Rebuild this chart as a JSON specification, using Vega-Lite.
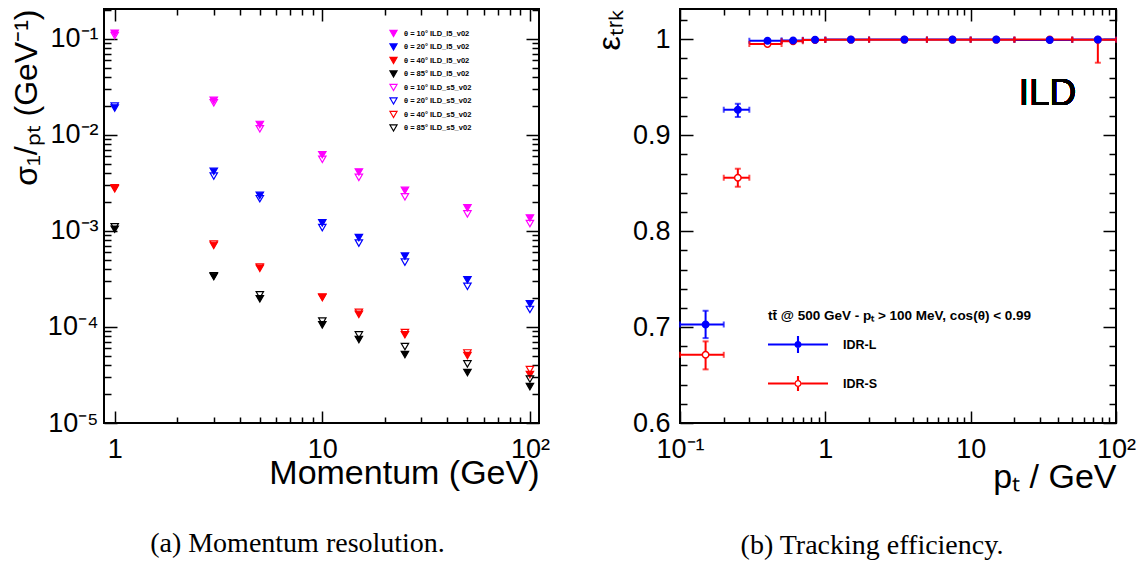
{
  "$schema": "https://vega.github.io/schema/vega-lite/v6.json",
  "background": "white",
  "padding": {"left": 9, "top": 7, "right": 5, "bottom": 5},
  "bounds": "flush",
  "spacing": 141,
  "config": {
    "view": {"stroke": "black", "strokeWidth": 2},
    "axis": {
      "domain": false, "grid": false, "tickColor": "black", "tickWidth": 1.5,
      "labelFont": "Liberation Sans", "labelFontSize": 27, "labelColor": "black",
      "titleFont": "Liberation Sans", "titleFontWeight": "normal", "titleColor": "black", "titleFontSize": 34,
      "labelFlush": false, "labelOverlap": false, "labelBound": false
    }
  },
  "hconcat": [
    {
      "width": 435, "height": 414,
      "title": {"text": "(a) Momentum resolution.", "orient": "bottom", "anchor": "middle", "dx": -24, "font": "Liberation Serif", "fontSize": 28, "fontWeight": "normal", "color": "black", "offset": 40},
      "data": {"values": [
        {"p": 1, "s": "θ = 10° ILD_l5_v02", "sigma": 0.114},
        {"p": 3, "s": "θ = 10° ILD_l5_v02", "sigma": 0.0228},
        {"p": 5, "s": "θ = 10° ILD_l5_v02", "sigma": 0.0128},
        {"p": 10, "s": "θ = 10° ILD_l5_v02", "sigma": 0.0062},
        {"p": 15, "s": "θ = 10° ILD_l5_v02", "sigma": 0.0041},
        {"p": 25, "s": "θ = 10° ILD_l5_v02", "sigma": 0.00264},
        {"p": 50, "s": "θ = 10° ILD_l5_v02", "sigma": 0.00174},
        {"p": 100, "s": "θ = 10° ILD_l5_v02", "sigma": 0.00136},
        {"p": 1, "s": "θ = 20° ILD_l5_v02", "sigma": 0.019},
        {"p": 3, "s": "θ = 20° ILD_l5_v02", "sigma": 0.00416},
        {"p": 5, "s": "θ = 20° ILD_l5_v02", "sigma": 0.00234},
        {"p": 10, "s": "θ = 20° ILD_l5_v02", "sigma": 0.00121},
        {"p": 15, "s": "θ = 20° ILD_l5_v02", "sigma": 0.00085},
        {"p": 25, "s": "θ = 20° ILD_l5_v02", "sigma": 0.000545},
        {"p": 50, "s": "θ = 20° ILD_l5_v02", "sigma": 0.000309},
        {"p": 100, "s": "θ = 20° ILD_l5_v02", "sigma": 0.000174},
        {"p": 1, "s": "θ = 40° ILD_l5_v02", "sigma": 0.00274},
        {"p": 3, "s": "θ = 40° ILD_l5_v02", "sigma": 0.000705},
        {"p": 5, "s": "θ = 40° ILD_l5_v02", "sigma": 0.000408},
        {"p": 10, "s": "θ = 40° ILD_l5_v02", "sigma": 0.000202},
        {"p": 15, "s": "θ = 40° ILD_l5_v02", "sigma": 0.000135},
        {"p": 25, "s": "θ = 40° ILD_l5_v02", "sigma": 0.000083},
        {"p": 50, "s": "θ = 40° ILD_l5_v02", "sigma": 0.0000503},
        {"p": 100, "s": "θ = 40° ILD_l5_v02", "sigma": 0.0000319},
        {"p": 1, "s": "θ = 85° ILD_l5_v02", "sigma": 0.00104},
        {"p": 3, "s": "θ = 85° ILD_l5_v02", "sigma": 0.000335},
        {"p": 5, "s": "θ = 85° ILD_l5_v02", "sigma": 0.000196},
        {"p": 10, "s": "θ = 85° ILD_l5_v02", "sigma": 0.000105},
        {"p": 15, "s": "θ = 85° ILD_l5_v02", "sigma": 0.000074},
        {"p": 25, "s": "θ = 85° ILD_l5_v02", "sigma": 0.0000515},
        {"p": 50, "s": "θ = 85° ILD_l5_v02", "sigma": 0.0000335},
        {"p": 100, "s": "θ = 85° ILD_l5_v02", "sigma": 0.0000239},
        {"p": 1, "s": "θ = 10° ILD_s5_v02", "sigma": 0.108},
        {"p": 3, "s": "θ = 10° ILD_s5_v02", "sigma": 0.0215},
        {"p": 5, "s": "θ = 10° ILD_s5_v02", "sigma": 0.01155},
        {"p": 10, "s": "θ = 10° ILD_s5_v02", "sigma": 0.00555},
        {"p": 15, "s": "θ = 10° ILD_s5_v02", "sigma": 0.0036},
        {"p": 25, "s": "θ = 10° ILD_s5_v02", "sigma": 0.00226},
        {"p": 50, "s": "θ = 10° ILD_s5_v02", "sigma": 0.0015},
        {"p": 100, "s": "θ = 10° ILD_s5_v02", "sigma": 0.00119},
        {"p": 1, "s": "θ = 20° ILD_s5_v02", "sigma": 0.0199},
        {"p": 3, "s": "θ = 20° ILD_s5_v02", "sigma": 0.00372},
        {"p": 5, "s": "θ = 20° ILD_s5_v02", "sigma": 0.00216},
        {"p": 10, "s": "θ = 20° ILD_s5_v02", "sigma": 0.00108},
        {"p": 15, "s": "θ = 20° ILD_s5_v02", "sigma": 0.000745},
        {"p": 25, "s": "θ = 20° ILD_s5_v02", "sigma": 0.000472},
        {"p": 50, "s": "θ = 20° ILD_s5_v02", "sigma": 0.000265},
        {"p": 100, "s": "θ = 20° ILD_s5_v02", "sigma": 0.000152},
        {"p": 1, "s": "θ = 40° ILD_s5_v02", "sigma": 0.0028},
        {"p": 3, "s": "θ = 40° ILD_s5_v02", "sigma": 0.00073},
        {"p": 5, "s": "θ = 40° ILD_s5_v02", "sigma": 0.00042},
        {"p": 10, "s": "θ = 40° ILD_s5_v02", "sigma": 0.000205},
        {"p": 15, "s": "θ = 40° ILD_s5_v02", "sigma": 0.000142},
        {"p": 25, "s": "θ = 40° ILD_s5_v02", "sigma": 0.0000875},
        {"p": 50, "s": "θ = 40° ILD_s5_v02", "sigma": 0.0000536},
        {"p": 100, "s": "θ = 40° ILD_s5_v02", "sigma": 0.000036},
        {"p": 1, "s": "θ = 85° ILD_s5_v02", "sigma": 0.0011},
        {"p": 3, "s": "θ = 85° ILD_s5_v02", "sigma": 0.00034},
        {"p": 5, "s": "θ = 85° ILD_s5_v02", "sigma": 0.000216},
        {"p": 10, "s": "θ = 85° ILD_s5_v02", "sigma": 0.000115},
        {"p": 15, "s": "θ = 85° ILD_s5_v02", "sigma": 0.0000826},
        {"p": 25, "s": "θ = 85° ILD_s5_v02", "sigma": 0.0000625},
        {"p": 50, "s": "θ = 85° ILD_s5_v02", "sigma": 0.0000412},
        {"p": 100, "s": "θ = 85° ILD_s5_v02", "sigma": 0.0000287}
      ]},
      "layer": [
        {
          "mark": {"type": "point", "shape": "triangle-down", "filled": true, "size": 55, "strokeWidth": 1.2, "opacity": 1},
          "encoding": {
            "x": {"field": "p", "type": "quantitative",
              "scale": {"type": "log", "domain": [0.888, 110.6], "nice": false},
              "axis": {"orient": "bottom", "values": [1, 10, 100], "labelExpr": "datum.value < 2 ? '1' : datum.value < 20 ? '10' : '10²'", "tickSize": -12, "labelPadding": 25, "title": "Momentum (GeV)", "titleAnchor": "end", "titlePadding": -6}},
            "y": {"field": "sigma", "type": "quantitative",
              "scale": {"type": "log", "domain": [0.00001, 0.2037], "nice": false},
              "axis": {"orient": "left", "values": [0.00001, 0.0001, 0.001, 0.01, 0.1], "labelExpr": "datum.value < 2e-5 ? '10⁻⁵' : datum.value < 2e-4 ? '10⁻⁴' : datum.value < 2e-3 ? '10⁻³' : datum.value < 2e-2 ? '10⁻²' : '10⁻¹'", "tickSize": -13, "labelPadding": 19, "title": "σ₁/ₚₜ (GeV⁻¹)", "titleAnchor": "end", "titlePadding": 4, "titleFontSize": 32}},
            "fill": {"field": "s", "type": "nominal",
              "scale": {"domain": ["θ = 10° ILD_l5_v02", "θ = 20° ILD_l5_v02", "θ = 40° ILD_l5_v02", "θ = 85° ILD_l5_v02", "θ = 10° ILD_s5_v02", "θ = 20° ILD_s5_v02", "θ = 40° ILD_s5_v02", "θ = 85° ILD_s5_v02"],
                        "range": ["#ff00ff", "#0000ff", "#ff0000", "#000000", "transparent", "transparent", "transparent", "transparent"]},
              "legend": {"orient": "none", "legendX": 285, "legendY": 20, "title": null, "labelFont": "Liberation Sans", "labelFontSize": 7.5, "labelFontWeight": "bold", "labelColor": "black", "symbolSize": 50, "symbolType": "triangle-down", "symbolStrokeWidth": 1.2, "rowPadding": 2.5, "labelOffset": 6}},
            "stroke": {"field": "s", "type": "nominal",
              "scale": {"domain": ["θ = 10° ILD_l5_v02", "θ = 20° ILD_l5_v02", "θ = 40° ILD_l5_v02", "θ = 85° ILD_l5_v02", "θ = 10° ILD_s5_v02", "θ = 20° ILD_s5_v02", "θ = 40° ILD_s5_v02", "θ = 85° ILD_s5_v02"],
                        "range": ["#ff00ff", "#0000ff", "#ff0000", "#000000", "#ff00ff", "#0000ff", "#ff0000", "#000000"]},
              "legend": {"orient": "none", "legendX": 285, "legendY": 20, "title": null, "labelFont": "Liberation Sans", "labelFontSize": 7.5, "labelFontWeight": "bold", "labelColor": "black", "symbolSize": 50, "symbolType": "triangle-down", "symbolStrokeWidth": 1.2, "rowPadding": 2.5, "labelOffset": 6}}
          }
        },
        {
          "mark": {"type": "point", "opacity": 0},
          "encoding": {
            "x": {"field": "p", "type": "quantitative", "scale": {"type": "log", "domain": [0.888, 110.6], "nice": false},
              "axis": {"orient": "bottom", "values": [2, 3, 4, 5, 6, 7, 8, 9, 20, 30, 40, 50, 60, 70, 80, 90], "labels": false, "tickSize": -6, "title": null}},
            "y": {"field": "sigma", "type": "quantitative", "scale": {"type": "log", "domain": [0.00001, 0.2037], "nice": false},
              "axis": {"orient": "left", "values": [0.00002, 0.00003, 0.00004, 0.00005, 0.00006, 0.00007, 0.00008, 0.00009, 0.0002, 0.0003, 0.0004, 0.0005, 0.0006, 0.0007, 0.0008, 0.0009, 0.002, 0.003, 0.004, 0.005, 0.006, 0.007, 0.008, 0.009, 0.02, 0.03, 0.04, 0.05, 0.06, 0.07, 0.08, 0.09, 0.2], "labels": false, "tickSize": -7, "title": null}}
          }
        },
        {
          "mark": {"type": "point", "opacity": 0},
          "encoding": {
            "x": {"field": "p", "type": "quantitative", "scale": {"type": "log", "domain": [0.888, 110.6], "nice": false},
              "axis": {"orient": "top", "values": [1, 10, 100], "labels": false, "tickSize": -12, "title": null}},
            "y": {"field": "sigma", "type": "quantitative", "scale": {"type": "log", "domain": [0.00001, 0.2037], "nice": false},
              "axis": {"orient": "right", "values": [0.00001, 0.0001, 0.001, 0.01, 0.1], "labels": false, "tickSize": -13, "title": null}}
          }
        },
        {
          "mark": {"type": "point", "opacity": 0},
          "encoding": {
            "x": {"field": "p", "type": "quantitative", "scale": {"type": "log", "domain": [0.888, 110.6], "nice": false},
              "axis": {"orient": "top", "values": [2, 3, 4, 5, 6, 7, 8, 9, 20, 30, 40, 50, 60, 70, 80, 90], "labels": false, "tickSize": -6, "title": null}},
            "y": {"field": "sigma", "type": "quantitative", "scale": {"type": "log", "domain": [0.00001, 0.2037], "nice": false},
              "axis": {"orient": "right", "values": [0.00002, 0.00003, 0.00004, 0.00005, 0.00006, 0.00007, 0.00008, 0.00009, 0.0002, 0.0003, 0.0004, 0.0005, 0.0006, 0.0007, 0.0008, 0.0009, 0.002, 0.003, 0.004, 0.005, 0.006, 0.007, 0.008, 0.009, 0.02, 0.03, 0.04, 0.05, 0.06, 0.07, 0.08, 0.09, 0.2], "labels": false, "tickSize": -7, "title": null}}
          }
        }
      ],
      "resolve": {"axis": {"x": "independent", "y": "independent"}}
    },
    {
      "width": 436, "height": 414,
      "title": {"text": "(b) Tracking efficiency.", "orient": "bottom", "anchor": "middle", "dx": -26, "font": "Liberation Serif", "fontSize": 28, "fontWeight": "normal", "color": "black", "offset": 38},
      "data": {"values": [
        {"det": "IDR-L", "x": 0.15, "xlo": 0.1, "xhi": 0.2, "y": 0.7027, "ylo": 0.6885, "yhi": 0.717},
        {"det": "IDR-L", "x": 0.25, "xlo": 0.2, "xhi": 0.3, "y": 0.9266, "ylo": 0.919, "yhi": 0.9328},
        {"det": "IDR-L", "x": 0.4, "xlo": 0.3, "xhi": 0.5, "y": 0.9985, "ylo": 0.9978, "yhi": 0.9992},
        {"det": "IDR-L", "x": 0.6, "xlo": 0.5, "xhi": 0.7, "y": 0.9988, "ylo": 0.9982, "yhi": 0.9994},
        {"det": "IDR-L", "x": 0.85, "xlo": 0.7, "xhi": 1, "y": 0.9995, "ylo": 0.9992, "yhi": 0.9998},
        {"det": "IDR-L", "x": 1.5, "xlo": 1, "xhi": 2, "y": 0.9997, "ylo": 0.9995, "yhi": 0.9999},
        {"det": "IDR-L", "x": 3.5, "xlo": 2, "xhi": 5, "y": 0.9997, "ylo": 0.9995, "yhi": 0.9999},
        {"det": "IDR-L", "x": 7.5, "xlo": 5, "xhi": 10, "y": 0.9997, "ylo": 0.9995, "yhi": 0.9999},
        {"det": "IDR-L", "x": 15, "xlo": 10, "xhi": 20, "y": 0.9997, "ylo": 0.9995, "yhi": 0.9999},
        {"det": "IDR-L", "x": 35, "xlo": 20, "xhi": 50, "y": 0.9994, "ylo": 0.9991, "yhi": 0.9997},
        {"det": "IDR-L", "x": 75, "xlo": 50, "xhi": 100, "y": 0.9997, "ylo": 0.9994, "yhi": 1.0},
        {"det": "IDR-S", "x": 0.15, "xlo": 0.1, "xhi": 0.2, "y": 0.6711, "ylo": 0.6559, "yhi": 0.6851},
        {"det": "IDR-S", "x": 0.25, "xlo": 0.2, "xhi": 0.3, "y": 0.8557, "ylo": 0.8463, "yhi": 0.8651},
        {"det": "IDR-S", "x": 0.4, "xlo": 0.3, "xhi": 0.5, "y": 0.9951, "ylo": 0.9942, "yhi": 0.996},
        {"det": "IDR-S", "x": 0.6, "xlo": 0.5, "xhi": 0.7, "y": 0.998, "ylo": 0.9974, "yhi": 0.9986},
        {"det": "IDR-S", "x": 0.85, "xlo": 0.7, "xhi": 1, "y": 0.9993, "ylo": 0.999, "yhi": 0.9996},
        {"det": "IDR-S", "x": 1.5, "xlo": 1, "xhi": 2, "y": 0.9996, "ylo": 0.9994, "yhi": 0.9998},
        {"det": "IDR-S", "x": 3.5, "xlo": 2, "xhi": 5, "y": 0.9996, "ylo": 0.9994, "yhi": 0.9998},
        {"det": "IDR-S", "x": 7.5, "xlo": 5, "xhi": 10, "y": 0.9996, "ylo": 0.9994, "yhi": 0.9998},
        {"det": "IDR-S", "x": 15, "xlo": 10, "xhi": 20, "y": 0.9996, "ylo": 0.9994, "yhi": 0.9998},
        {"det": "IDR-S", "x": 35, "xlo": 20, "xhi": 50, "y": 0.9997, "ylo": 0.9995, "yhi": 0.9999},
        {"det": "IDR-S", "x": 75, "xlo": 50, "xhi": 100, "y": 0.9996, "ylo": 0.9756, "yhi": 1.0}
      ]},
      "layer": [
        {
          "transform": [{"filter": "datum.det == 'IDR-L'"}],
          "mark": {"type": "rule", "strokeWidth": 2, "color": "#0000ff"},
          "encoding": {
            "x": {"field": "xlo", "type": "quantitative", "scale": {"type": "log", "domain": [0.1, 100], "nice": false},
              "axis": {"orient": "bottom", "values": [0.1, 1, 10, 100], "labelExpr": "datum.value < 0.2 ? '10⁻¹' : datum.value < 2 ? '1' : datum.value < 20 ? '10' : '10²'", "tickSize": -12, "labelPadding": 25, "title": "pₜ / GeV", "titleAnchor": "end", "titlePadding": -2}},
            "x2": {"field": "xhi"},
            "y": {"field": "y", "type": "quantitative", "scale": {"domain": [0.6, 1.0316], "nice": false, "zero": false},
              "axis": {"orient": "left", "values": [0.6, 0.7, 0.8, 0.9, 1.0], "labelExpr": "datum.value > 0.95 ? '1' : format(datum.value, '.1f')", "tickSize": -13, "labelPadding": 23, "title": "εₜᵣₖ", "titleAnchor": "end", "titlePadding": 6, "titleFontSize": 32}}
          }
        },
        {
          "transform": [{"filter": "datum.det == 'IDR-L'"}],
          "mark": {"type": "rule", "strokeWidth": 2, "color": "#0000ff"},
          "encoding": {
            "x": {"field": "x", "type": "quantitative", "scale": {"type": "log", "domain": [0.1, 100], "nice": false},
              "axis": {"orient": "bottom", "values": [0.2, 0.3, 0.4, 0.5, 0.6, 0.7, 0.8, 0.9, 2, 3, 4, 5, 6, 7, 8, 9, 20, 30, 40, 50, 60, 70, 80, 90], "labels": false, "tickSize": -6, "title": null}},
            "y": {"field": "ylo", "type": "quantitative", "scale": {"domain": [0.6, 1.0316], "nice": false, "zero": false},
              "axis": {"orient": "left", "values": [0.62, 0.64, 0.66, 0.68, 0.72, 0.74, 0.76, 0.78, 0.82, 0.84, 0.86, 0.88, 0.92, 0.94, 0.96, 0.98, 1.02], "labels": false, "tickSize": -7, "title": null}},
            "y2": {"field": "yhi"}
          }
        },
        {
          "transform": [{"filter": "datum.det == 'IDR-L'"}, {"fold": ["xlo", "xhi"], "as": ["edge", "xv"]}],
          "mark": {"type": "tick", "orient": "vertical", "size": 6, "thickness": 2, "color": "#0000ff"},
          "encoding": {
            "x": {"field": "xv", "type": "quantitative", "scale": {"type": "log", "domain": [0.1, 100], "nice": false},
              "axis": {"orient": "top", "values": [0.1, 1, 10, 100], "labels": false, "tickSize": -12, "title": null}},
            "y": {"field": "y", "type": "quantitative", "scale": {"domain": [0.6, 1.0316], "nice": false, "zero": false},
              "axis": {"orient": "right", "values": [0.6, 0.7, 0.8, 0.9, 1.0], "labels": false, "tickSize": -13, "title": null}}
          }
        },
        {
          "transform": [{"filter": "datum.det == 'IDR-L' && datum.yhi - datum.ylo > 0.003"}, {"fold": ["ylo", "yhi"], "as": ["edge", "yv"]}],
          "mark": {"type": "tick", "orient": "horizontal", "size": 6, "thickness": 2, "color": "#0000ff"},
          "encoding": {
            "x": {"field": "x", "type": "quantitative", "scale": {"type": "log", "domain": [0.1, 100], "nice": false},
              "axis": {"orient": "top", "values": [0.2, 0.3, 0.4, 0.5, 0.6, 0.7, 0.8, 0.9, 2, 3, 4, 5, 6, 7, 8, 9, 20, 30, 40, 50, 60, 70, 80, 90], "labels": false, "tickSize": -6, "title": null}},
            "y": {"field": "yv", "type": "quantitative", "scale": {"domain": [0.6, 1.0316], "nice": false, "zero": false},
              "axis": {"orient": "right", "values": [0.62, 0.64, 0.66, 0.68, 0.72, 0.74, 0.76, 0.78, 0.82, 0.84, 0.86, 0.88, 0.92, 0.94, 0.96, 0.98, 1.02], "labels": false, "tickSize": -7, "title": null}}
          }
        },
        {
          "transform": [{"filter": "datum.det == 'IDR-S'"}],
          "mark": {"type": "rule", "strokeWidth": 2, "color": "#ff0000"},
          "encoding": {
            "x": {"field": "xlo", "type": "quantitative", "scale": {"type": "log", "domain": [0.1, 100], "nice": false}, "axis": null},
            "x2": {"field": "xhi"},
            "y": {"field": "y", "type": "quantitative", "scale": {"domain": [0.6, 1.0316], "nice": false, "zero": false}, "axis": null}
          }
        },
        {
          "transform": [{"filter": "datum.det == 'IDR-S'"}],
          "mark": {"type": "rule", "strokeWidth": 2, "color": "#ff0000"},
          "encoding": {
            "x": {"field": "x", "type": "quantitative", "scale": {"type": "log", "domain": [0.1, 100], "nice": false}, "axis": null},
            "y": {"field": "ylo", "type": "quantitative", "scale": {"domain": [0.6, 1.0316], "nice": false, "zero": false}, "axis": null},
            "y2": {"field": "yhi"}
          }
        },
        {
          "transform": [{"filter": "datum.det == 'IDR-S'"}, {"fold": ["xlo", "xhi"], "as": ["edge", "xv"]}],
          "mark": {"type": "tick", "orient": "vertical", "size": 6, "thickness": 2, "color": "#ff0000"},
          "encoding": {
            "x": {"field": "xv", "type": "quantitative", "scale": {"type": "log", "domain": [0.1, 100], "nice": false}, "axis": null},
            "y": {"field": "y", "type": "quantitative", "scale": {"domain": [0.6, 1.0316], "nice": false, "zero": false}, "axis": null}
          }
        },
        {
          "transform": [{"filter": "datum.det == 'IDR-S' && datum.yhi - datum.ylo > 0.003"}, {"fold": ["ylo", "yhi"], "as": ["edge", "yv"]}],
          "mark": {"type": "tick", "orient": "horizontal", "size": 6, "thickness": 2, "color": "#ff0000"},
          "encoding": {
            "x": {"field": "x", "type": "quantitative", "scale": {"type": "log", "domain": [0.1, 100], "nice": false}, "axis": null},
            "y": {"field": "yv", "type": "quantitative", "scale": {"domain": [0.6, 1.0316], "nice": false, "zero": false}, "axis": null}
          }
        },
        {
          "transform": [{"filter": "datum.det == 'IDR-S'"}],
          "mark": {"type": "point", "shape": "circle", "filled": true, "fill": "white", "stroke": "#ff0000", "size": 42, "strokeWidth": 1.5, "opacity": 1},
          "encoding": {
            "x": {"field": "x", "type": "quantitative", "scale": {"type": "log", "domain": [0.1, 100], "nice": false}, "axis": null},
            "y": {"field": "y", "type": "quantitative", "scale": {"domain": [0.6, 1.0316], "nice": false, "zero": false}, "axis": null}
          }
        },
        {
          "transform": [{"filter": "datum.det == 'IDR-L'"}],
          "mark": {"type": "point", "shape": "circle", "filled": true, "fill": "#0000ff", "stroke": "#0000ff", "size": 42, "strokeWidth": 1.5, "opacity": 1},
          "encoding": {
            "x": {"field": "x", "type": "quantitative", "scale": {"type": "log", "domain": [0.1, 100], "nice": false}, "axis": null},
            "y": {"field": "y", "type": "quantitative", "scale": {"domain": [0.6, 1.0316], "nice": false, "zero": false}, "axis": null}
          }
        },
        {
          "transform": [{"filter": "datum.x < 0"}],
          "mark": {"type": "point", "filled": true, "opacity": 1},
          "encoding": {
            "x": {"field": "x", "type": "quantitative", "scale": {"type": "log", "domain": [0.1, 100], "nice": false}, "axis": null},
            "y": {"field": "y", "type": "quantitative", "scale": {"domain": [0.6, 1.0316], "nice": false, "zero": false}, "axis": null},
            "color": {"field": "det", "type": "nominal", "scale": {"domain": ["IDR-L", "IDR-S"], "range": ["#0000ff", "#ff0000"]},
              "legend": {"orient": "none", "legendX": 664, "legendY": 300, "title": "tt̄ @ 500 GeV - pₜ > 100 MeV, cos(θ) < 0.99", "titleFont": "Liberation Sans", "titleFontSize": 13.5, "titleFontWeight": "bold", "titleColor": "black", "titleLimit": 400, "titlePadding": -8, "labelFont": "Liberation Sans", "labelFontSize": 12.5, "labelFontWeight": "bold", "labelColor": "black", "symbolSize": 3600, "symbolStrokeWidth": 0, "labelOffset": 15, "rowPadding": -12}},
            "shape": {"field": "det", "type": "nominal",
              "scale": {"domain": ["IDR-L", "IDR-S"], "range": [
                "M-1,-0.035H1V0.035H-1Z M-0.035,-0.28H0.035V0.28H-0.035Z M0.12,0A0.12,0.12,0,1,1,-0.12,0A0.12,0.12,0,1,1,0.12,0Z",
                "M-1,-0.035H-0.12V0.035H-1Z M0.12,-0.035H1V0.035H0.12Z M-0.035,-0.25H0.035V-0.12H-0.035Z M-0.035,0.12H0.035V0.25H-0.035Z M0.12,0A0.12,0.12,0,1,1,-0.12,0A0.12,0.12,0,1,1,0.12,0Z M0.075,0A0.075,0.075,0,1,0,-0.075,0A0.075,0.075,0,1,0,0.075,0Z"
              ]},
              "legend": {"orient": "none", "legendX": 664, "legendY": 300, "title": "tt̄ @ 500 GeV - pₜ > 100 MeV, cos(θ) < 0.99", "titleFont": "Liberation Sans", "titleFontSize": 13.5, "titleFontWeight": "bold", "titleColor": "black", "titleLimit": 400, "titlePadding": -8, "labelFont": "Liberation Sans", "labelFontSize": 12.5, "labelFontWeight": "bold", "labelColor": "black", "symbolSize": 3600, "symbolStrokeWidth": 0, "labelOffset": 15, "rowPadding": -12}}
          }
        },
        {
          "mark": {"type": "text", "align": "left", "baseline": "alphabetic", "font": "Liberation Sans", "fontSize": 37, "fontWeight": "normal", "color": "black"},
          "encoding": {
            "x": {"datum": 21.4, "type": "quantitative", "scale": {"type": "log", "domain": [0.1, 100], "nice": false}, "axis": null},
            "y": {"datum": 0.9312, "type": "quantitative", "scale": {"domain": [0.6, 1.0316], "nice": false, "zero": false}, "axis": null},
            "text": {"value": "ILD"}
          }
        }
      ],
      "resolve": {"axis": {"x": "independent", "y": "independent"}}
    }
  ]
}
